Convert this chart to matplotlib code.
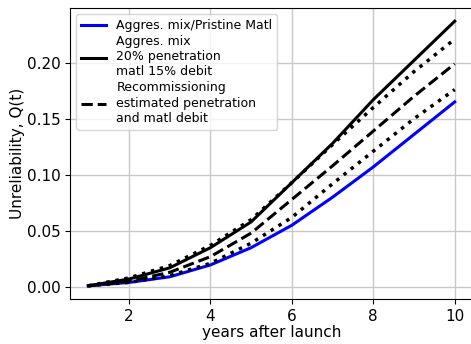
#!/usr/bin/env python
# unreliability vs. years after launch
import matplotlib.pyplot as plt

years = [1, 2, 3, 4, 5, 6, 7, 8, 9, 10]
q_pristine = [0.001, 0.004, 0.009, 0.0196, 0.035, 0.055, 0.080, 0.107, 0.136, 0.165]
q_20pen = [0.001, 0.007, 0.017, 0.035, 0.058, 0.093, 0.128, 0.167, 0.202, 0.237]
q_recomm = [0.001, 0.005, 0.013, 0.027, 0.048, 0.078, 0.108, 0.139, 0.170, 0.199]
q_dot_hi = [0.001, 0.008, 0.019, 0.037, 0.060, 0.093, 0.127, 0.160, 0.192, 0.221]
q_dot_lo = [0.001, 0.004, 0.010, 0.021, 0.039, 0.062, 0.092, 0.121, 0.150, 0.176]

lab1 = "Aggres. mix/Pristine Matl"
lab2 = "Aggres. mix\n20% penetration\nmatl 15% debit"
lab3 = "Recommissioning\nestimated penetration\nand matl debit"

fs = 11
plt.rcParams['font.family'] = ['DejaVu Sans']
fig = plt.figure(figsize=[4.71, 3.44], dpi=100)
ax = fig.add_axes([70/471, 45/344, 403/471, 291/344])
ax.plot(years, q_pristine, color='blue', lw=2.2, label=lab1)
ax.plot(years, q_20pen, color='black', lw=2.2, label=lab2)
ax.plot(years, q_recomm, color='black', lw=2.2, ls='--', label=lab3)
ax.plot(years, q_dot_hi, color='black', lw=2.5, ls=':')
ax.plot(years, q_dot_lo, color='black', lw=2.5, ls=':')
ax.grid(True, color='#c8c8c8', lw=1)
ax.set_xticks([2, 4, 6, 8, 10])
ax.tick_params(labelsize=fs)
ax.set_xlabel("years after launch", fontsize=fs, labelpad=1)
ax.set_ylabel("Unreliability, Q(t)", fontsize=fs, labelpad=1)
ax.legend(loc='upper left', fontsize=9, handlelength=2, labelspacing=0.25)
plt.savefig("out.png", dpi=100)
